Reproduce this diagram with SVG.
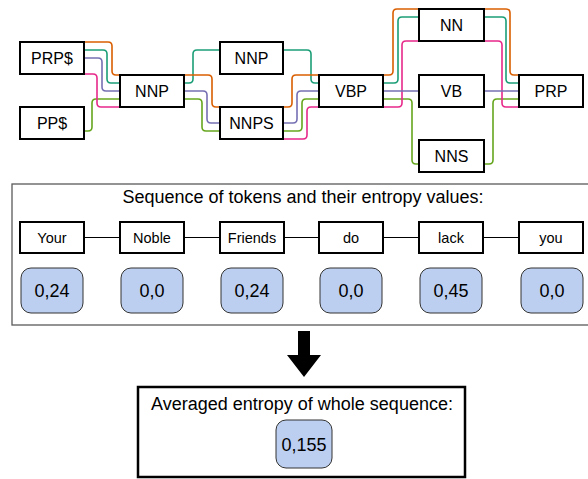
<svg xmlns="http://www.w3.org/2000/svg" width="588" height="479" viewBox="0 0 588 479">
<style>
text{font-family:"Liberation Sans",Arial,sans-serif;text-anchor:middle;fill:#000}
.node rect{fill:#fff;stroke:#000;stroke-width:2}
.node text{font-size:16px}
.tok rect{fill:#fff;stroke:#000;stroke-width:2}
.tok text{font-size:14.5px}
.val rect{fill:#bccff0;stroke:#333;stroke-width:1}
.val text{font-size:18px}
.lk{fill:none;stroke-width:1.6}
.title{font-size:18px}
</style>
<g id="connectors">
<path class="lk" stroke="#66a61e" d="M84 131 H88 Q92 131 92 127 V103 Q92 99 96 99 H120 M184 99 H198 Q202 99 202 103 V127 Q202 131 206 131 H220 M283 131 H298 Q302 131 302 127 V103 Q302 99 306 99 H319 M383 99 H408 Q412 99 412 103 V160 Q412 164 416 164 H419 M484 164 H489 Q493 164 493 160 V103 Q493 99 497 99 H519"/>
<path class="lk" stroke="#e7298a" d="M84 74 H93 Q97 74 97 78 V103 Q97 107 101 107 H120 M283 139 H303 Q307 139 307 135 V111 Q307 107 311 107 H319 M383 107 H398 Q402 107 402 103 V45 Q402 41 406 41 H419 M484 41 H498 Q502 41 502 45 V103 Q502 107 506 107 H519"/>
<path class="lk" stroke="#7570b3" d="M84 58 H98 Q102 58 102 62 V87 Q102 91 106 91 H120 M184 91 H203 Q207 91 207 95 V119 Q207 123 211 123 H220 M283 123 H293 Q297 123 297 119 V95 Q297 91 301 91 H319 M383 91 H519"/>
<path class="lk" stroke="#1b9e77" d="M84 50 H103 Q107 50 107 54 V79 Q107 83 111 83 H120 M184 83 H189 Q193 83 193 79 V54 Q193 50 197 50 H220 M283 50 H307 Q311 50 311 54 V79 Q311 83 315 83 H319 M383 83 H394 Q398 83 398 79 V21 Q398 17 402 17 H419 M484 17 H502 Q506 17 506 21 V79 Q506 83 510 83 H519"/>
<path class="lk" stroke="#d95f02" d="M84 42 H108 Q112 42 112 46 V71 Q112 75 116 75 H120 M184 75 H208 Q212 75 212 79 V103 Q212 107 216 107 H220 M283 107 H288 Q292 107 292 103 V79 Q292 75 296 75 H319 M383 75 H389 Q393 75 393 71 V13 Q393 9 397 9 H419 M484 9 H506 Q510 9 510 13 V71 Q510 75 514 75 H519"/>
</g>
<g id="n-prps" class="node"><rect x="20" y="42" width="64" height="32"/><text x="52" y="63.5">PRP$</text></g>
<g id="n-pps" class="node"><rect x="20" y="107" width="64" height="32"/><text x="52" y="128.5">PP$</text></g>
<g id="n-nnp1" class="node"><rect x="120" y="75" width="64" height="32"/><text x="152" y="96.5">NNP</text></g>
<g id="n-nnp2" class="node"><rect x="220" y="42" width="63" height="32"/><text x="251.5" y="63.5">NNP</text></g>
<g id="n-nnps" class="node"><rect x="220" y="107" width="63" height="32"/><text x="251.5" y="128.5">NNPS</text></g>
<g id="n-vbp" class="node"><rect x="319" y="75" width="64" height="32"/><text x="351" y="96.5">VBP</text></g>
<g id="n-nn" class="node"><rect x="419" y="9" width="65" height="32"/><text x="451.5" y="30.5">NN</text></g>
<g id="n-vb" class="node"><rect x="419" y="75" width="65" height="32"/><text x="451.5" y="96.5">VB</text></g>
<g id="n-nns" class="node"><rect x="419" y="140" width="65" height="32"/><text x="451.5" y="161.5">NNS</text></g>
<g id="n-prp" class="node"><rect x="519" y="75" width="64" height="32"/><text x="551" y="96.5">PRP</text></g>
<g id="panel">
<rect x="12" y="184" width="590" height="141" fill="#fff" stroke="#5a5a5a" stroke-width="1.3"/>
<text class="title" x="303" y="203">Sequence of tokens and their entropy values:</text>
</g>
<g id="token-links"><path fill="none" stroke="#000" stroke-width="1" d="M84 237.5 H120 M184 237.5 H220 M284 237.5 H319 M383 237.5 H419 M483 237.5 H519"/></g>
<g id="t-your" class="tok"><rect x="20" y="222" width="64" height="31"/><text x="52" y="243">Your</text></g>
<g id="t-noble" class="tok"><rect x="120" y="222" width="64" height="31"/><text x="152" y="243">Noble</text></g>
<g id="t-friends" class="tok"><rect x="220" y="222" width="64" height="31"/><text x="252" y="243">Friends</text></g>
<g id="t-do" class="tok"><rect x="319" y="222" width="64" height="31"/><text x="351" y="243">do</text></g>
<g id="t-lack" class="tok"><rect x="419" y="222" width="64" height="31"/><text x="451" y="243">lack</text></g>
<g id="t-you" class="tok"><rect x="519" y="222" width="64" height="31"/><text x="551" y="243">you</text></g>
<g id="v-your" class="val"><rect x="21" y="268" width="62" height="45" rx="10"/><text x="52" y="297">0,24</text></g>
<g id="v-noble" class="val"><rect x="121" y="268" width="62" height="45" rx="10"/><text x="152" y="297">0,0</text></g>
<g id="v-friends" class="val"><rect x="221" y="268" width="62" height="45" rx="10"/><text x="252" y="297">0,24</text></g>
<g id="v-do" class="val"><rect x="320" y="268" width="62" height="45" rx="10"/><text x="351" y="297">0,0</text></g>
<g id="v-lack" class="val"><rect x="420" y="268" width="62" height="45" rx="10"/><text x="451" y="297">0,45</text></g>
<g id="v-you" class="val"><rect x="521" y="268" width="62" height="45" rx="10"/><text x="552" y="297">0,0</text></g>
<g id="arrow"><polygon points="298,331 310,331 310,355 321,355 304,377 287,355 298,355" fill="#000"/></g>
<g id="result">
<rect x="138" y="387" width="327" height="90" fill="#fff" stroke="#000" stroke-width="2.5"/>
<text class="title" x="302" y="410">Averaged entropy of whole sequence:</text>
</g>
<g id="v-avg" class="val"><rect x="276" y="420" width="56" height="48" rx="10"/><text x="304" y="451">0,155</text></g>
</svg>
